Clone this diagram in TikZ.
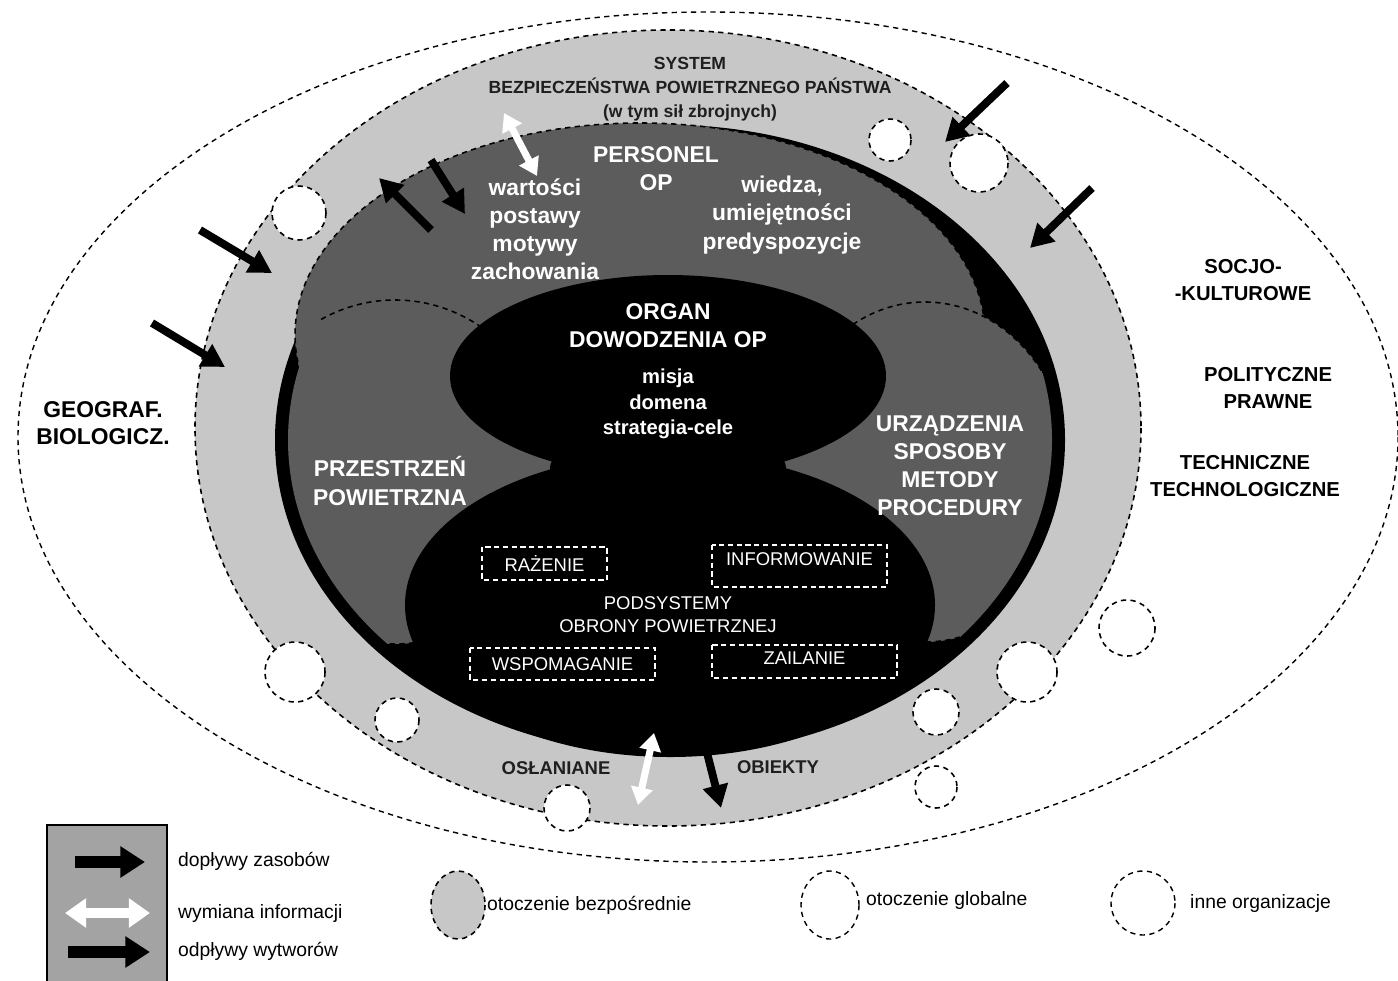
\documentclass[tikz,border=0pt]{standalone}
\usepackage{fontspec}
\setmainfont{Liberation Sans}
\usepackage{tikz}
\usetikzlibrary{positioning}
\usetikzlibrary{arrows.meta}

\definecolor{ringgray}{gray}{0.78}
\definecolor{persgray}{gray}{0.36}
\definecolor{boxgray}{gray}{0.64}
\definecolor{inkgray}{gray}{0.12}

\begin{document}
\begin{tikzpicture}[x=0.02cm, y=-0.02cm,
  zone/.style={draw=black, dash pattern=on 3pt off 2.5pt, line width=0.9pt},
  orgcircle/.style={zone, fill=white},
  subbox/.style={draw=white, dash pattern=on 3pt off 2pt, line width=0.8pt},
  boxtext/.style={text=white, font=\fontsize{10.5}{12}\selectfont},
  intext/.style={text=white, align=center, font=\bfseries\fontsize{13}{16}\selectfont},
  smalltext/.style={text=white, align=center, font=\bfseries\fontsize{11.5}{14.6}\selectfont},
  outtext/.style={text=black, align=center, font=\bfseries\fontsize{11.5}{15.5}\selectfont},
  legtext/.style={anchor=west, text=black, font=\fontsize{11}{13}\selectfont},
  inflow/.style={line width=4.5pt, -{Triangle[length=13pt, width=14pt]}},
  infoflow/.style={white, line width=4pt, {Triangle[length=10pt, width=12pt]}-{Triangle[length=10pt, width=12pt]}}
]
  \useasboundingbox (0,0) rectangle (1398,980);

  \draw[zone, line width=0.8pt, fill=white] (708,437) ellipse [x radius=690, y radius=425];
  \draw[zone, fill=ringgray] (668,428) ellipse [x radius=473, y radius=398];
  \fill[black] (670,440) ellipse [x radius=395, y radius=315];
  \draw[zone, fill=persgray] (640,335) ellipse [x radius=345, y radius=212];

  \begin{scope}
    \clip (670,440) ellipse [x radius=382, y radius=303];
    \draw[zone, fill=persgray] (395,472) ellipse [x radius=160, y radius=172];
    \draw[zone, fill=persgray] (925,472) ellipse [x radius=145, y radius=170];
  \end{scope}

  \fill[black] (668,468) ellipse [x radius=118, y radius=40];
  \fill[black] (668,376) ellipse [x radius=218, y radius=101];
  \fill[black] (670,605) ellipse [x radius=265, y radius=152];

  \draw[orgcircle] (299,213) circle [radius=27];
  \draw[orgcircle] (890,140) circle [radius=21];
  \draw[orgcircle] (979,163) circle [radius=29];
  \draw[orgcircle] (295,672) circle [radius=30];
  \draw[orgcircle] (397,720) circle [radius=22];
  \draw[orgcircle] (567,808) circle [radius=23];
  \draw[orgcircle] (936,712) circle [radius=23];
  \draw[orgcircle] (1027,672) circle [radius=30];
  \draw[orgcircle] (1127,628) circle [radius=28];
  \draw[orgcircle] (936,787) circle [radius=21];

  \node[text=inkgray, align=center, font=\bfseries\fontsize{10}{13.5}\selectfont] at (690,89) (system)
    {SYSTEM\\BEZPIECZEŃSTWA POWIETRZNEGO PAŃSTWA\\(w tym sił zbrojnych)};

  \node[intext] at (656,169) (personel) {PERSONEL\\OP};
  \node[intext] at (535,229) (wartosci) {wartości\\postawy\\motywy\\zachowania};
  \node[intext] at (782,215) (wiedza) {wiedza,\\umiejętności\\predyspozycje};
  \node[intext] at (668,326) (organ) {ORGAN\\DOWODZENIA OP};
  \node[smalltext] at (668,404) (misja) {misja\\domena\\strategia-cele};
  \node[intext] at (390,481) (przestrzen) {PRZESTRZEŃ\\POWIETRZNA};
  \node[intext] at (950,466) (urzadzenia) {URZĄDZENIA\\SPOSOBY\\METODY\\PROCEDURY};

  \draw[subbox] (482,547) rectangle (607,580) node [midway, boxtext] (razenie) {RAŻENIE};
  \draw[subbox] (712,545) rectangle (887,587) node [midway, boxtext, yshift=4pt] (informowanie) {INFORMOWANIE};
  \draw[subbox] (470,648) rectangle (655,680) node [midway, boxtext] (wspomaganie) {WSPOMAGANIE};
  \draw[subbox] (712,645) rectangle (897,678) node [midway, boxtext, yshift=2pt] (zailanie) {ZAILANIE};
  \node[boxtext, align=center, font=\fontsize{10.5}{13}\selectfont] at (668,615) (podsystemy)
    {PODSYSTEMY\\OBRONY POWIETRZNEJ};

  \node[text=inkgray, font=\bfseries\fontsize{10.5}{12}\selectfont] at (556,768) (oslaniane) {OSŁANIANE};
  \node[text=inkgray, font=\bfseries\fontsize{10.5}{12}\selectfont] at (778,767) (obiekty) {OBIEKTY};

  \node[outtext, font=\bfseries\fontsize{13}{15.5}\selectfont] at (103,423) (geograf) {GEOGRAF.\\BIOLOGICZ.};
  \node[outtext] at (1243,280) (socjo) {SOCJO-\\-KULTUROWE};
  \node[outtext] at (1268,388) (polityczne) {POLITYCZNE\\PRAWNE};
  \node[outtext] at (1245,476) (techniczne) {TECHNICZNE\\TECHNOLOGICZNE};

  \coordinate (in1s) at (200,230);
  \coordinate (in1e) at (272,273);
  \coordinate (in2s) at (152,323);
  \coordinate (in2e) at (225,367);
  \coordinate (in3s) at (431,160);
  \coordinate (in3e) at (465,214);
  \coordinate (in4s) at (1007,83);
  \coordinate (in4e) at (945,142);
  \coordinate (in5s) at (1092,188);
  \coordinate (in5e) at (1030,248);
  \coordinate (out1s) at (431,230);
  \coordinate (out1e) at (379,178);
  \coordinate (out2s) at (702,733);
  \coordinate (out2e) at (721,808);
  \coordinate (info1s) at (504,113);
  \coordinate (info1e) at (537,176);
  \coordinate (info2s) at (654,733);
  \coordinate (info2e) at (638,805);

  \draw[inflow] (in1s) -- (in1e);
  \draw[inflow] (in2s) -- (in2e);
  \draw[inflow] (in3s) -- (in3e);
  \draw[inflow] (in4s) -- (in4e);
  \draw[inflow] (in5s) -- (in5e);
  \draw[inflow] (out1s) -- (out1e);
  \draw[inflow] (out2s) -- (out2e);
  \draw[infoflow] (info1s) -- (info1e);
  \draw[infoflow] (info2s) -- (info2e);

  \draw[fill=boxgray, line width=1.2pt] (47,825) rectangle (167,990);
  \coordinate (leg1s) at (75,862);
  \coordinate (leg1e) at (145,862);
  \coordinate (leg2s) at (65,913);
  \coordinate (leg2e) at (150,913);
  \coordinate (leg3s) at (68,952);
  \coordinate (leg3e) at (150,952);
  \draw[line width=7pt, -{Triangle[length=14pt, width=17pt]}] (leg1s) -- (leg1e);
  \draw[white, line width=6pt, {Triangle[length=12pt, width=16pt]}-{Triangle[length=12pt, width=16pt]}] (leg2s) -- (leg2e);
  \draw[line width=7pt, -{Triangle[length=14pt, width=17pt]}] (leg3s) -- (leg3e);
  \node[legtext] at (172,861) (doplywy) {dopływy zasobów};
  \node[legtext] at (172,913) (wymiana) {wymiana informacji};
  \node[legtext] at (172,951) (odplywy) {odpływy wytworów};

  \draw[zone, fill=ringgray] (458,905) ellipse [x radius=27, y radius=34];
  \node[legtext] at (481,905) (bezposrednie) {otoczenie bezpośrednie};
  \draw[zone, line width=0.8pt] (830,905) ellipse [x radius=29, y radius=34];
  \node[legtext] at (860,900) (globalne) {otoczenie globalne};
  \draw[zone, line width=0.8pt] (1143,903) circle [radius=32];
  \node[legtext] at (1184,903) (inne) {inne organizacje};
\end{tikzpicture}
\end{document}
